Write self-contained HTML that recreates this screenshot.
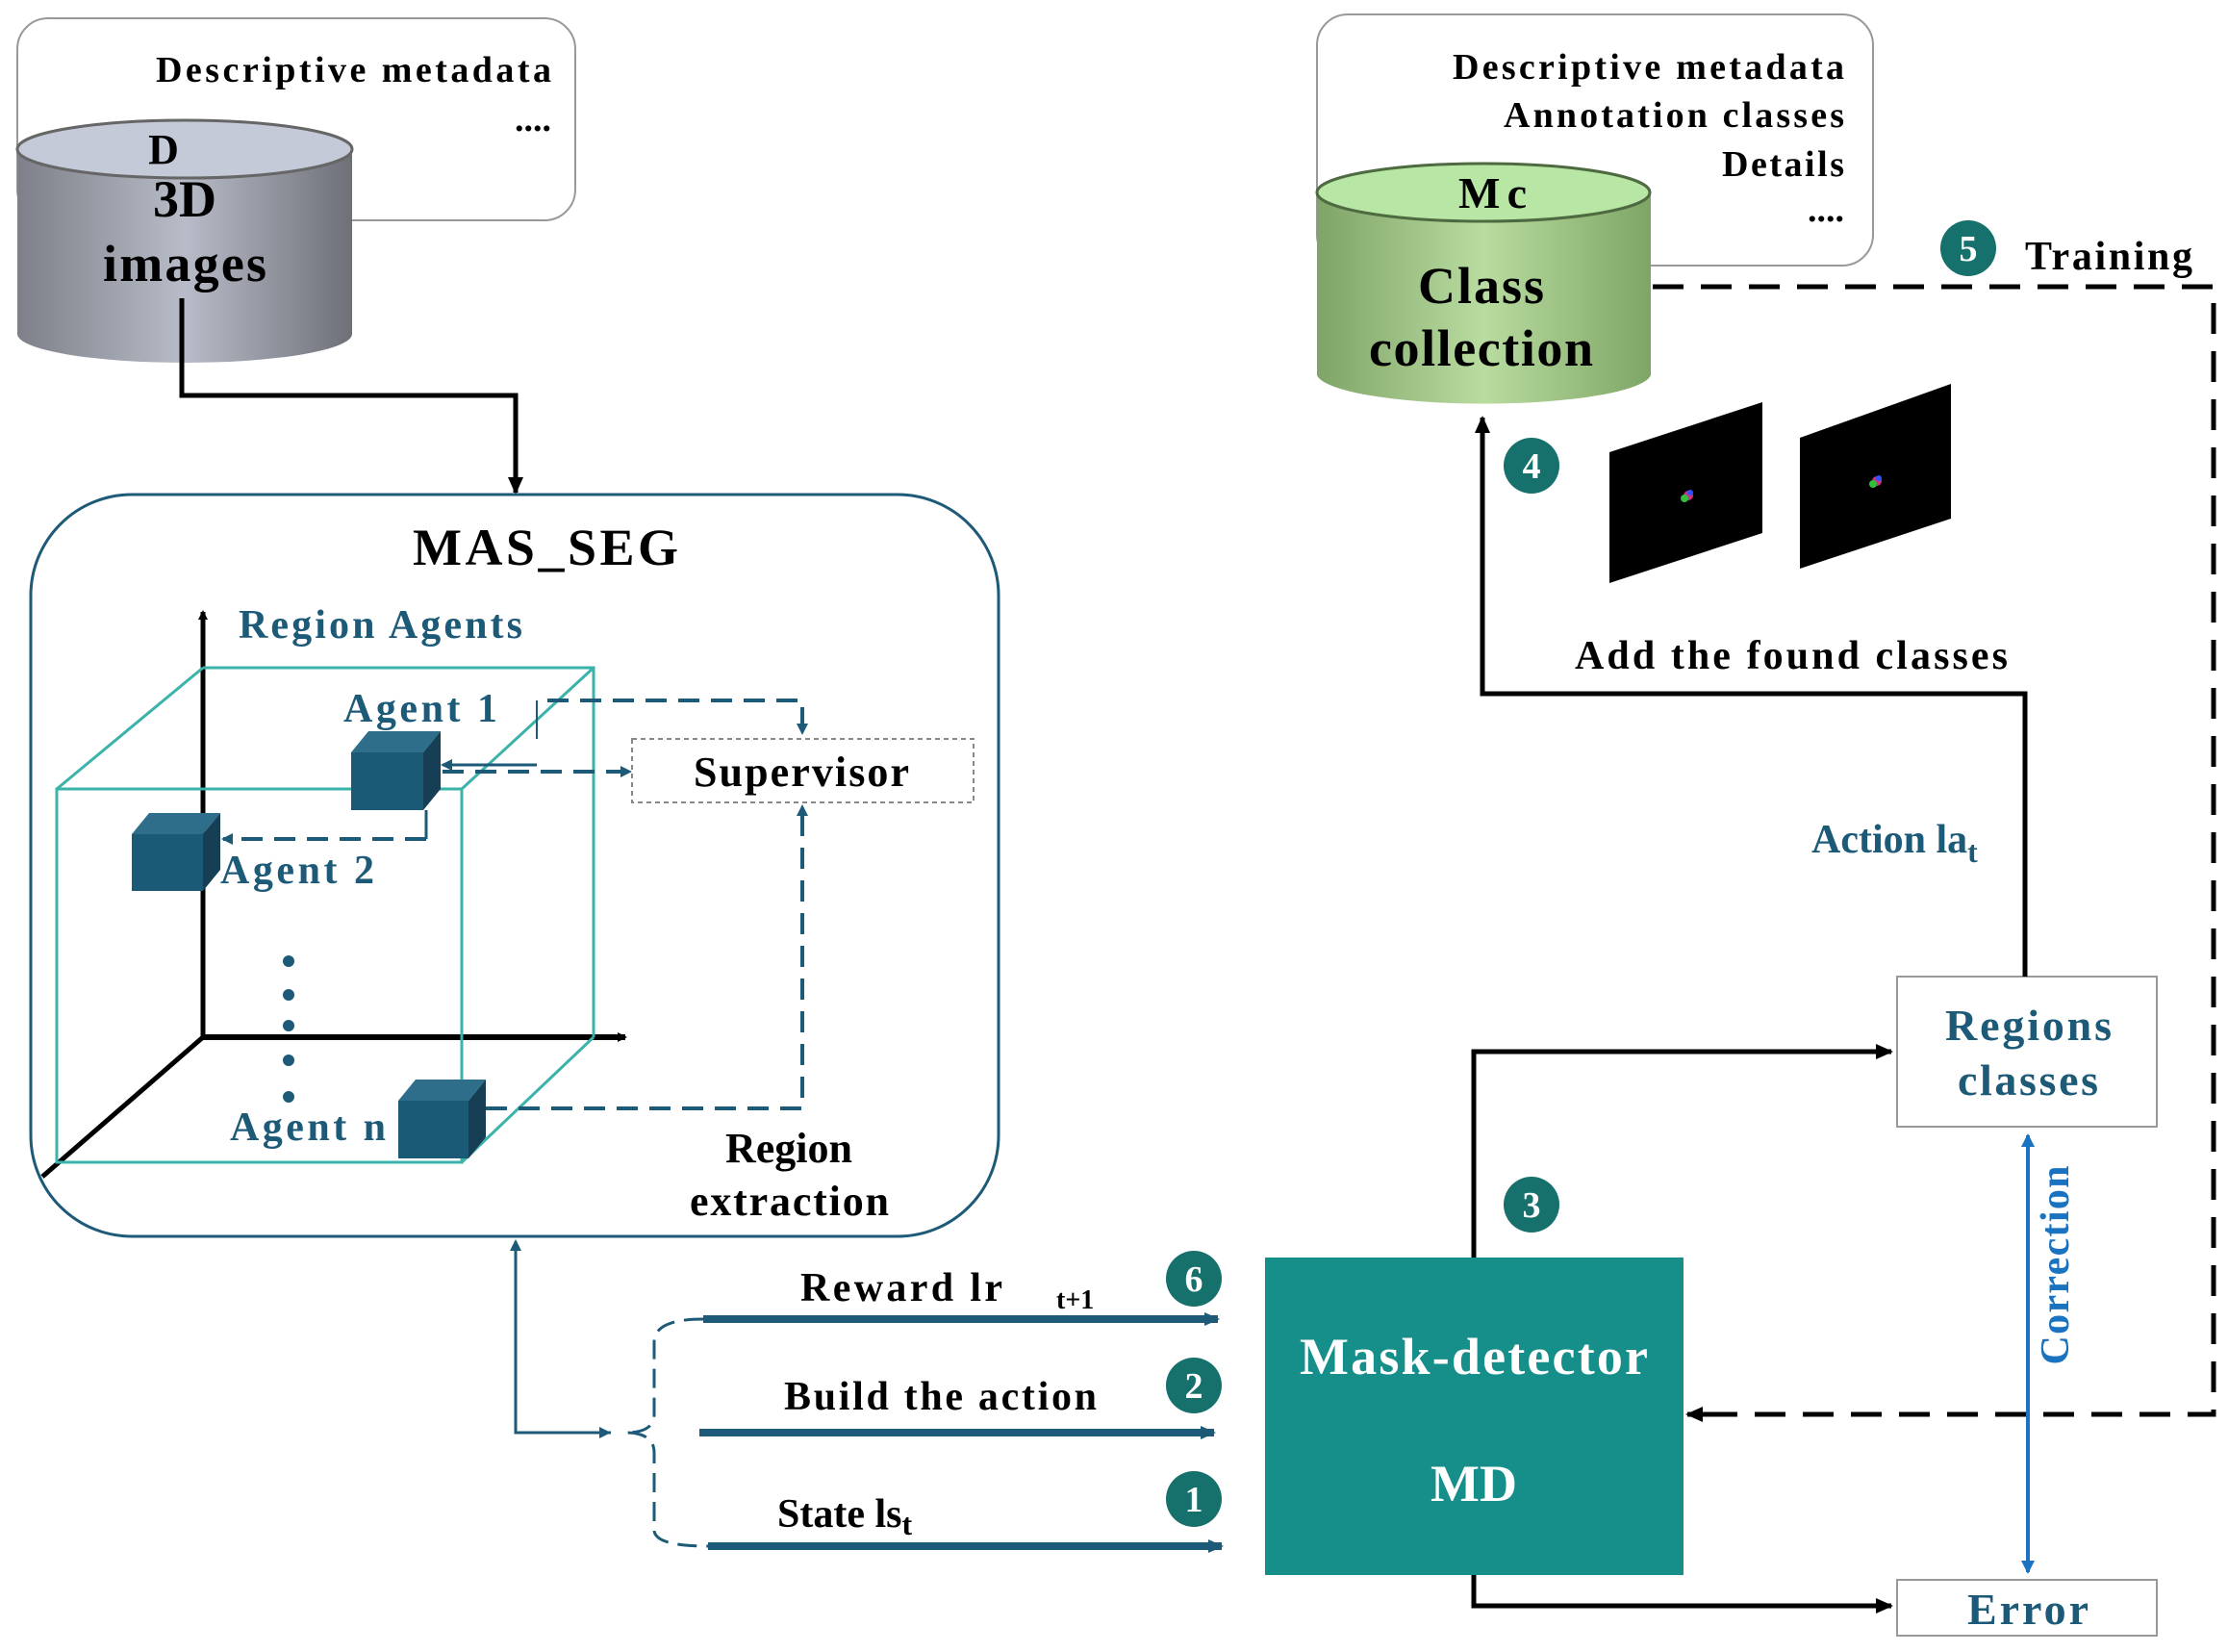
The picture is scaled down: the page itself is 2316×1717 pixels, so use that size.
<!DOCTYPE html>
<html><head><meta charset="utf-8"><style>
html,body{margin:0;padding:0;background:#fff;width:2316px;height:1717px;overflow:hidden}
svg text{font-family:"Liberation Serif",serif;font-weight:bold}
</style></head><body>
<svg width="2316" height="1717" viewBox="0 0 2316 1717" xmlns="http://www.w3.org/2000/svg">
<defs>
<marker id="ak" markerWidth="10" markerHeight="10" refX="8" refY="5" orient="auto" markerUnits="userSpaceOnUse"><path d="M0,0 L10,5 L0,10 z" fill="#000"/></marker>
<marker id="akb" markerWidth="18" markerHeight="16" refX="16" refY="8" orient="auto" markerUnits="userSpaceOnUse"><path d="M0,0 L18,8 L0,16 z" fill="#000"/></marker>
<marker id="at" markerWidth="16" markerHeight="14" refX="14" refY="7" orient="auto" markerUnits="userSpaceOnUse"><path d="M0,0 L16,7 L0,14 z" fill="#1d5a78"/></marker>
<marker id="ats" markerWidth="12" markerHeight="12" refX="10" refY="6" orient="auto" markerUnits="userSpaceOnUse"><path d="M0,0 L12,6 L0,12 z" fill="#1d5a78"/></marker>
<marker id="abl" markerWidth="14" markerHeight="14" refX="12" refY="7" orient="auto-start-reverse" markerUnits="userSpaceOnUse"><path d="M0,0 L14,7 L0,14 z" fill="#1a73c0"/></marker>
<linearGradient id="gray" x1="0" x2="1"><stop offset="0" stop-color="#7d8088"/><stop offset="0.5" stop-color="#b8bcc8"/><stop offset="1" stop-color="#6e7078"/></linearGradient>
<linearGradient id="green" x1="0" x2="1"><stop offset="0" stop-color="#7fa468"/><stop offset="0.5" stop-color="#b9dca0"/><stop offset="1" stop-color="#7ea566"/></linearGradient>
</defs>

<rect x="18" y="19" width="580" height="210" rx="32" fill="#fff" stroke="#999" stroke-width="2"/>
<text x="162" y="85" font-size="38" textLength="411">Descriptive metadata</text>
<text x="573" y="136" font-size="38" text-anchor="end">....</text>
<path d="M18,155 L18,347 A174,30 0 0 0 366,347 L366,155 Z" fill="url(#gray)"/>
<ellipse cx="192" cy="155" rx="174" ry="30" fill="#c5cad8" stroke="#666" stroke-width="3"/>
<text x="170" y="170" font-size="44" text-anchor="middle">D</text>
<text x="192" y="225" font-size="54" text-anchor="middle">3D</text>
<text x="107" y="292" font-size="54" textLength="170">images</text>
<polyline points="189,310 189,411 536,411 536,512" fill="none" stroke="#000" stroke-width="5" marker-end="url(#akb)"/>

<rect x="32" y="514" width="1006" height="771" rx="105" fill="none" stroke="#1d5a78" stroke-width="3"/>
<text x="429" y="587" font-size="54" textLength="276">MAS_SEG</text>
<text x="248" y="663" font-size="42" fill="#1d5a78" textLength="295">Region Agents</text>

<line x1="211" y1="1078" x2="211" y2="636" stroke="#000" stroke-width="5" marker-end="url(#ak)"/>
<line x1="211" y1="1078" x2="650" y2="1078" stroke="#000" stroke-width="6" marker-end="url(#ak)"/>
<line x1="211" y1="1078" x2="44" y2="1223" stroke="#000" stroke-width="5"/>

<g fill="none" stroke="#3bb3aa" stroke-width="3">
<rect x="59" y="820" width="421" height="388"/>
<polyline points="211,694 617,694 617,1078"/>
<line x1="59" y1="820" x2="211" y2="694"/>
<line x1="480" y1="820" x2="617" y2="694"/>
<line x1="480" y1="1208" x2="617" y2="1078"/>
</g>

<g>
<polygon points="365,782 383,760 458,760 440,782" fill="#2f6e8a"/>
<polygon points="440,782 458,760 458,820 440,842" fill="#163f55"/>
<rect x="365" y="782" width="75" height="60" fill="#1b5a76"/>
<polygon points="137,867 155,845 229,845 211,867" fill="#2f6e8a"/>
<polygon points="211,867 229,845 229,904 211,926" fill="#163f55"/>
<rect x="137" y="867" width="74" height="59" fill="#1b5a76"/>
<polygon points="414,1144 432,1122 505,1122 487,1144" fill="#2f6e8a"/>
<polygon points="487,1144 505,1122 505,1182 487,1204" fill="#163f55"/>
<rect x="414" y="1144" width="73" height="60" fill="#1b5a76"/>
</g>
<text x="357" y="750" font-size="42" fill="#1d5a78" textLength="160">Agent 1</text>
<text x="229" y="918" font-size="42" fill="#1d5a78" textLength="160">Agent 2</text>
<text x="239" y="1185" font-size="42" fill="#1d5a78" textLength="162">Agent n</text>
<g fill="#1d5a78"><circle cx="300" cy="999" r="6"/><circle cx="300" cy="1034" r="6"/><circle cx="300" cy="1066" r="6"/><circle cx="300" cy="1102" r="6"/><circle cx="300" cy="1140" r="6"/></g>

<rect x="657" y="768" width="355" height="66" fill="none" stroke="#888" stroke-width="2" stroke-dasharray="5,4"/>
<text x="721" y="817" font-size="44" textLength="224">Supervisor</text>
<g fill="none" stroke="#1d5a78" stroke-width="4" stroke-dasharray="22,12">
<polyline points="569,728 834,728 834,762" marker-end="url(#ats)"/>
<line x1="558" y1="728" x2="558" y2="768" stroke-dasharray="none" stroke-width="2"/>
<line x1="558" y1="795" x2="460" y2="795" stroke-dasharray="none" stroke-width="3" marker-end="url(#ats)"/>
<line x1="460" y1="802" x2="655" y2="802" marker-end="url(#ats)"/>
<line x1="443" y1="842" x2="443" y2="872" stroke-dasharray="none" stroke-width="3"/>
<line x1="443" y1="872" x2="232" y2="872" marker-end="url(#ats)"/>
<polyline points="505,1152 834,1152 834,838" marker-end="url(#ats)"/>
</g>
<text x="820" y="1208" font-size="44" text-anchor="middle">Region</text>
<text x="717" y="1263" font-size="44" textLength="207">extraction</text>

<polyline points="635,1489 536,1489 536,1290" fill="none" stroke="#1d5a78" stroke-width="3" marker-end="url(#ats)"/>
<line x1="536" y1="1489" x2="633" y2="1489" stroke="#1d5a78" stroke-width="3" marker-end="url(#ats)"/>
<path d="M731,1371 Q680,1371 680,1395 L680,1470 Q680,1489 650,1489 Q680,1489 680,1510 L680,1590 Q680,1607 736,1607" fill="none" stroke="#1d5a78" stroke-width="3" stroke-dasharray="20,10"/>

<g stroke="#1d5a78" stroke-width="8">
<line x1="731" y1="1371" x2="1266" y2="1371" marker-end="url(#at)"/>
<line x1="727" y1="1489" x2="1262" y2="1489" marker-end="url(#at)"/>
<line x1="736" y1="1607" x2="1270" y2="1607" marker-end="url(#at)"/>
</g>
<text x="832" y="1352" font-size="42" textLength="210">Reward lr</text>
<text x="1098" y="1360" font-size="28">t+1</text>
<text x="815" y="1465" font-size="42" textLength="325">Build the action</text>
<text x="808" y="1587" font-size="42">State ls<tspan font-size="32" dy="8">t</tspan></text>

<rect x="1315" y="1307" width="435" height="330" fill="#168e8a"/>
<text x="1351" y="1428" font-size="54" fill="#fff" textLength="362">Mask-detector</text>
<text x="1532" y="1560" font-size="54" fill="#fff" text-anchor="middle">MD</text>

<polyline points="1532,1307 1532,1093 1966,1093" fill="none" stroke="#000" stroke-width="5" marker-end="url(#akb)"/>
<polyline points="1532,1637 1532,1669 1966,1669" fill="none" stroke="#000" stroke-width="5" marker-end="url(#akb)"/>

<rect x="1972" y="1015" width="270" height="156" fill="#fff" stroke="#999" stroke-width="2"/>
<text x="2022" y="1081" font-size="46" fill="#1d5a78" textLength="173">Regions</text>
<text x="2035" y="1138" font-size="46" fill="#1d5a78" textLength="146">classes</text>
<rect x="1972" y="1642" width="270" height="58" fill="#fff" stroke="#999" stroke-width="2"/>
<text x="2045" y="1688" font-size="46" fill="#1d5a78" textLength="126">Error</text>

<line x1="2108" y1="1180" x2="2108" y2="1634" stroke="#1a73c0" stroke-width="4" marker-start="url(#abl)" marker-end="url(#abl)"/>
<text transform="translate(2150,1315) rotate(-90)" font-size="42" fill="#1a73c0" text-anchor="middle" textLength="207">Correction</text>

<polyline points="2105,1015 2105,721 1541,721 1541,434" fill="none" stroke="#000" stroke-width="5" marker-end="url(#akb)"/>
<text x="1883" y="886" font-size="42" fill="#1d5a78">Action la<tspan font-size="32" dy="10">t</tspan></text>
<text x="1637" y="695" font-size="42" textLength="450">Add the found classes</text>

<polyline points="1718,298 2301,298 2301,1470 1758,1470" fill="none" stroke="#000" stroke-width="5" stroke-dasharray="32,18"/>
<line x1="1790" y1="1470" x2="1754" y2="1470" stroke="#000" stroke-width="5" marker-end="url(#akb)"/>
<text x="2105" y="280" font-size="42" textLength="174">Training</text>

<rect x="1369" y="15" width="578" height="261" rx="32" fill="#fff" stroke="#999" stroke-width="2"/>
<text x="1510" y="82" font-size="38" textLength="407">Descriptive metadata</text>
<text x="1563" y="132" font-size="38" textLength="354">Annotation classes</text>
<text x="1790" y="183" font-size="38" textLength="127">Details</text>
<text x="1917" y="230" font-size="38" text-anchor="end">....</text>
<path d="M1369,200 L1369,390 A174,32 0 0 0 1716,390 L1716,200 Z" fill="url(#green)"/>
<ellipse cx="1542" cy="200" rx="173" ry="30" fill="#b8e6a4" stroke="#4e6a40" stroke-width="3"/>
<text x="1516" y="216" font-size="46" textLength="71">Mc</text>
<text x="1474" y="315" font-size="54" textLength="131">Class</text>
<text x="1423" y="380" font-size="54" textLength="233">collection</text>

<polygon points="1673,470 1832,418 1832,554 1673,606" fill="#000"/>
<polygon points="1871,455 2028,399 2028,539 1871,591" fill="#000"/>
<circle cx="1755" cy="515" r="5" fill="#d03080"/><circle cx="1751" cy="518" r="4" fill="#30c040"/><circle cx="1757" cy="512" r="3" fill="#3050ff"/>
<circle cx="1951" cy="500" r="5" fill="#d03080"/><circle cx="1947" cy="503" r="4" fill="#30c040"/><circle cx="1953" cy="497" r="3" fill="#3050ff"/>

<g fill="#16706c">
<circle cx="1241" cy="1329" r="29"/><circle cx="1241" cy="1440" r="29"/><circle cx="1241" cy="1558" r="29"/>
<circle cx="1592" cy="1252" r="29"/><circle cx="1592" cy="484" r="29"/><circle cx="2046" cy="258" r="29"/>
</g>
<g fill="#fff" font-size="38" text-anchor="middle">
<text x="1241" y="1342">6</text><text x="1241" y="1453">2</text><text x="1241" y="1571">1</text>
<text x="1592" y="1265">3</text><text x="1592" y="497">4</text><text x="2046" y="271">5</text>
</g>
</svg>
</body></html>
